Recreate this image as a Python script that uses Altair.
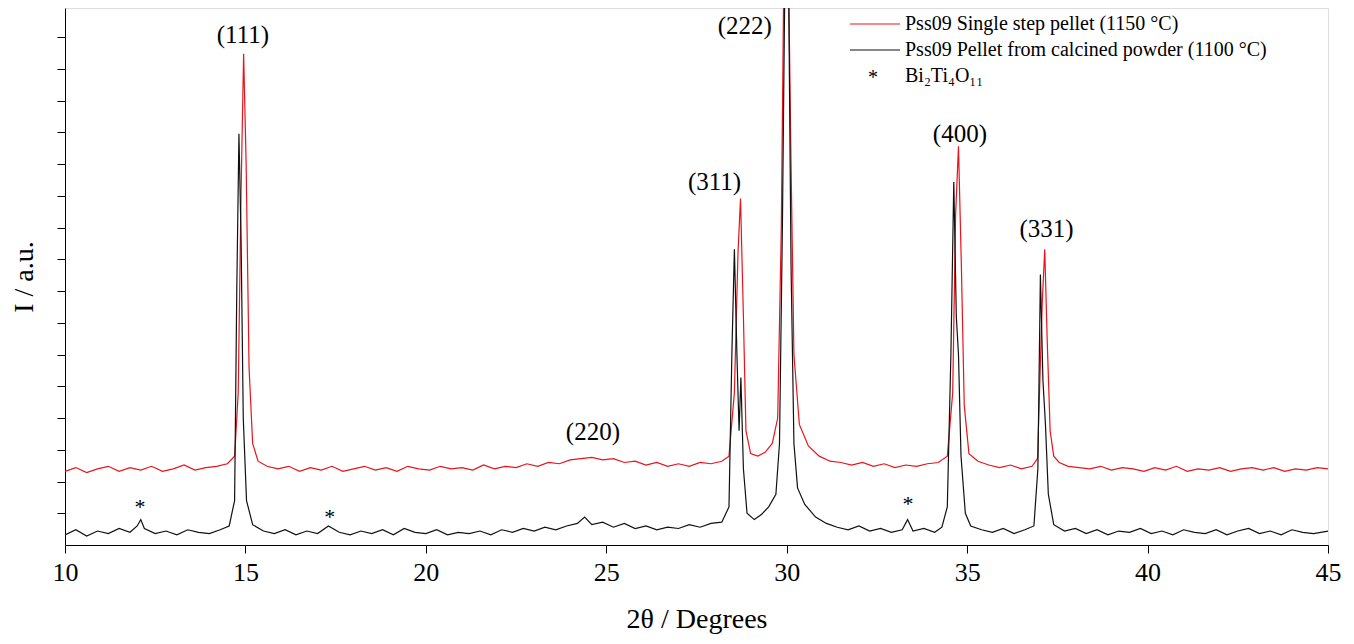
import altair as alt
import pandas as pd

red_x = [10, 10.3, 10.6, 10.9, 11.2, 11.5, 11.8, 12.1, 12.4, 12.7, 13.0, 13.3, 13.6, 13.9, 14.2, 14.5, 14.7,
         14.8, 14.88, 14.95, 15.02, 15.1, 15.2, 15.35, 15.6, 15.9, 16.2, 16.5, 16.8, 17.1, 17.4, 17.7, 18.0,
         18.3, 18.6, 18.9, 19.2, 19.5, 19.8, 20.1, 20.4, 20.7, 21.0, 21.3, 21.6, 21.9, 22.2, 22.5, 22.8, 23.1,
         23.4, 23.7, 24.0, 24.3, 24.6, 24.9, 25.2, 25.5, 25.8, 26.1, 26.4, 26.7, 27.0, 27.3, 27.6, 27.9, 28.2,
         28.4, 28.55, 28.65, 28.72, 28.8, 28.87, 29.0, 29.2, 29.4, 29.6, 29.75, 29.85, 29.92, 30.05, 30.12,
         30.2, 30.35, 30.6, 30.9, 31.2, 31.5, 31.8, 32.1, 32.4, 32.7, 33.0, 33.3, 33.6, 33.9, 34.2, 34.45,
         34.6, 34.68, 34.76, 34.84, 34.92, 35.05, 35.3, 35.6, 35.9, 36.2, 36.5, 36.8, 36.95, 37.08, 37.15,
         37.22, 37.3, 37.4, 37.55, 37.8, 38.1, 38.4, 38.7, 39.0, 39.3, 39.6, 39.9, 40.2, 40.5, 40.8, 41.1,
         41.4, 41.7, 42.0, 42.3, 42.6, 42.9, 43.2, 43.5, 43.8, 44.1, 44.4, 44.7, 45]
red_y = [0.58, 0.61, 0.57, 0.60, 0.62, 0.58, 0.61, 0.59, 0.62, 0.58, 0.60, 0.63, 0.59, 0.61, 0.62, 0.64, 0.70,
         1.2, 2.8, 3.87, 3.0, 1.4, 0.80, 0.66, 0.62, 0.60, 0.62, 0.58, 0.61, 0.59, 0.62, 0.58, 0.60,
         0.62, 0.59, 0.61, 0.58, 0.62, 0.60, 0.59, 0.62, 0.60, 0.61, 0.59, 0.63, 0.60, 0.62, 0.61, 0.64, 0.62,
         0.65, 0.64, 0.67, 0.68, 0.69, 0.67, 0.68, 0.65, 0.66, 0.63, 0.65, 0.62, 0.64, 0.62, 0.65, 0.64, 0.66,
         0.70, 1.2, 2.3, 2.73, 1.8, 0.9, 0.72, 0.70, 0.73, 0.80, 1.0, 2.5, 4.5, 4.5, 3.0,
         1.5, 0.95, 0.78, 0.70, 0.66, 0.65, 0.63, 0.65, 0.62, 0.64, 0.61, 0.63, 0.62, 0.64, 0.65, 0.70,
         1.2, 2.6, 3.14, 2.2, 1.1, 0.72, 0.66, 0.63, 0.61, 0.63, 0.60, 0.62, 0.68, 1.9, 2.33,
         1.6, 0.9, 0.70, 0.65, 0.62, 0.61, 0.60, 0.62, 0.59, 0.61, 0.60, 0.58, 0.61, 0.59, 0.62, 0.58,
         0.60, 0.59, 0.61, 0.58, 0.60, 0.61, 0.59, 0.61, 0.58, 0.60, 0.59, 0.61, 0.60]

black_x = [10, 10.3, 10.6, 10.9, 11.2, 11.5, 11.8, 12.0, 12.1, 12.2, 12.5, 12.8, 13.1, 13.4, 13.7, 14.0, 14.3,
           14.55, 14.7, 14.76, 14.82, 14.88, 14.94, 15.03, 15.2, 15.5, 15.8, 16.1, 16.4, 16.7, 17.0, 17.3,
           17.6, 17.9, 18.2, 18.5, 18.8, 19.1, 19.4, 19.7, 20.0, 20.3, 20.6, 20.9, 21.2, 21.5, 21.8, 22.1,
           22.4, 22.7, 23.0, 23.3, 23.6, 23.9, 24.2, 24.4, 24.6, 24.9, 25.2, 25.5, 25.8, 26.1, 26.4, 26.7,
           27.0, 27.3, 27.6, 27.9, 28.2, 28.4, 28.48, 28.55, 28.62, 28.68, 28.73, 28.8, 28.9, 29.1, 29.3,
           29.5, 29.7, 29.8, 29.88, 29.95, 30.05, 30.12, 30.2, 30.3, 30.5, 30.8, 31.1, 31.4, 31.7, 32.0,
           32.3, 32.6, 32.9, 33.2, 33.35, 33.5, 33.8, 34.1, 34.3, 34.45, 34.55, 34.63, 34.7, 34.76, 34.83,
           34.95, 35.1, 35.4, 35.7, 36.0, 36.3, 36.6, 36.85, 36.96, 37.03, 37.1, 37.17, 37.25, 37.4, 37.7,
           38.0, 38.3, 38.6, 38.9, 39.2, 39.5, 39.8, 40.1, 40.4, 40.7, 41.0, 41.3, 41.6, 41.9, 42.2, 42.5,
           42.8, 43.1, 43.4, 43.7, 44.0, 44.3, 44.6, 45]
black_y = [0.08, 0.12, 0.07, 0.11, 0.09, 0.13, 0.10, 0.15, 0.20, 0.13, 0.09, 0.11, 0.08, 0.12, 0.10, 0.09, 0.12,
           0.15, 0.35, 2.0, 3.24, 2.4, 1.0, 0.35, 0.16, 0.11, 0.09, 0.12, 0.08, 0.11, 0.09, 0.15,
           0.10, 0.08, 0.11, 0.09, 0.12, 0.08, 0.13, 0.10, 0.09, 0.12, 0.08, 0.10, 0.09, 0.11, 0.08, 0.12,
           0.10, 0.13, 0.11, 0.14, 0.12, 0.15, 0.17, 0.22, 0.16, 0.18, 0.14, 0.17, 0.13, 0.15, 0.12, 0.14,
           0.13, 0.16, 0.14, 0.17, 0.18, 0.30, 1.5, 2.33, 1.5, 0.9, 1.32, 0.6, 0.25, 0.20, 0.24,
           0.30, 0.40, 0.8, 2.5, 4.5, 4.5, 2.2, 0.8, 0.45, 0.32, 0.22, 0.17, 0.14, 0.12, 0.15,
           0.11, 0.13, 0.10, 0.12, 0.20, 0.11, 0.13, 0.10, 0.14, 0.30, 1.5, 2.86, 1.8, 1.5, 0.7,
           0.25, 0.15, 0.12, 0.10, 0.13, 0.09, 0.12, 0.15, 0.6, 2.13, 1.3, 0.95, 0.4, 0.16, 0.11,
           0.13, 0.09, 0.12, 0.08, 0.11, 0.10, 0.13, 0.09, 0.11, 0.08, 0.12, 0.10, 0.09, 0.12, 0.08, 0.11,
           0.13, 0.09, 0.11, 0.08, 0.12, 0.10, 0.09, 0.11]

peak_labels = ["(111)", "(220)", "(311)", "(222)", "(400)", "(331)"]
peak_x = [14.93, 24.63, 28.0, 28.84, 34.8, 37.2]
peak_y = [4.02, 0.89, 2.86, 4.09, 3.24, 2.49]

star_x = [12.08, 17.34, 33.36]
star_y = [0.30, 0.22, 0.32]

y_ticks = [0.25, 0.5, 0.75, 1.0, 1.25, 1.5, 1.75, 2.0, 2.25, 2.5, 2.75, 3.0, 3.25, 3.5, 3.75, 4.0]

legend_labels = ["Pss09 Single step pellet (1150 °C)", "Pss09 Pellet from calcined powder (1100 °C)", "Bi₂Ti₄O₁₁"]
legend_colors = ["#e8141c", "#111111"]

FONT = "Liberation Serif"

df = pd.concat([
    pd.DataFrame({"x": red_x, "y": red_y, "s": "red"}),
    pd.DataFrame({"x": black_x, "y": black_y, "s": "black"}),
])

xs = alt.Scale(domain=[10, 45], nice=False)
ys = alt.Scale(domain=[0, 4.23], nice=False)

lines = alt.Chart(df).mark_line(strokeWidth=1.2, clip=True).encode(
    x=alt.X("x:Q", scale=xs, axis=alt.Axis(values=list(range(10, 50, 5)), title="2θ / Degrees",
                                           titleFontSize=28, titlePadding=20, labelFontSize=26,
                                           labelPadding=6, tickSize=8, grid=False, labelFlush=False,
                                           domainColor="black", tickColor="black", labelColor="black",
                                           titleFontWeight="normal", titleFont=FONT, labelFont=FONT)),
    y=alt.Y("y:Q", scale=ys, axis=alt.Axis(values=y_ticks, tickCount=17, labels=False,
                                           title="I / a.u.", titleFontSize=28, titlePadding=18,
                                           tickSize=8, grid=False, domainColor="black", tickColor="black",
                                           titleFontWeight="normal", titleFont=FONT)),
    color=alt.Color("s:N", scale=alt.Scale(domain=["red", "black"], range=legend_colors), legend=None),
    detail="s:N",
)

pk = alt.Chart(pd.DataFrame({"t": peak_labels, "x": peak_x, "y": peak_y})).mark_text(
    font=FONT, fontSize=25, color="black").encode(x=alt.X("x:Q", scale=xs), y=alt.Y("y:Q", scale=ys), text="t:N")

stars = alt.Chart(pd.DataFrame({"x": star_x, "y": star_y})).mark_text(
    font=FONT, fontSize=22, color="black", text="*").encode(x=alt.X("x:Q", scale=xs), y=alt.Y("y:Q", scale=ys))

leg_lines = alt.Chart(pd.DataFrame({"c": legend_colors, "yy": [16, 42]})).mark_rule(strokeWidth=1).encode(
    x=alt.value(785), x2=alt.value(835), y=alt.Y("yy:Q", scale=None), color=alt.Color("c:N", scale=None))

leg_text = alt.Chart(pd.DataFrame({"t": legend_labels, "yy": [16, 42, 68]})).mark_text(
    font=FONT, fontSize=20, align="left", color="black").encode(
    x=alt.value(840), y=alt.Y("yy:Q", scale=None), text="t:N")

leg_star = alt.Chart(pd.DataFrame({"yy": [70]})).mark_text(
    font=FONT, fontSize=20, color="black", text="*").encode(x=alt.value(808), y=alt.Y("yy:Q", scale=None))

chart = alt.layer(lines, pk, stars, leg_lines, leg_text, leg_star).properties(
    width=1263, height=537, autosize="none",
    padding={"left": 57, "top": 0, "right": 18, "bottom": 90},
).configure_view(stroke="black", strokeWidth=1.5).configure_axis(
    labelOverlap=False, domainWidth=1.5, tickWidth=1.5
).configure(background="white")

chart.save("out.html", embed_options={"renderer": "svg", "actions": False})
